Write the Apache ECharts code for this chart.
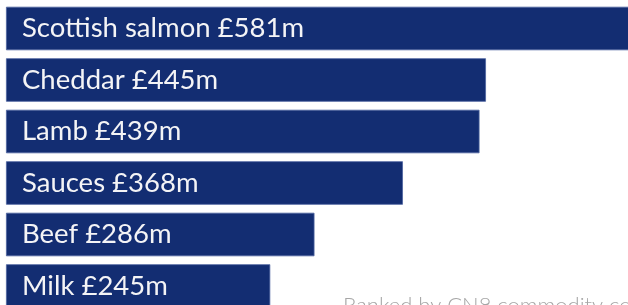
<!DOCTYPE html>
<html>
<head>
<meta charset="utf-8">
<script src="https://cdn.jsdelivr.net/npm/echarts@6/dist/echarts.min.js"></script>
<style>html,body{margin:0;padding:0;background:#fff}#c{width:628px;height:305px}</style>
</head>
<body>
<div id="c"></div>
<script>
const categories = ['Scottish salmon', 'Cheddar', 'Lamb', 'Sauces', 'Beef', 'Milk'];
const values = [581, 445, 439, 368, 286, 245];
const footnote = 'Ranked by CN8 commodity codes';

const chart = echarts.init(document.getElementById('c'));
chart.setOption({
  animation: false,
  grid: { left: 6, top: 2.75, width: 700, height: 309, containLabel: false, outerBoundsMode: 'none' },
  xAxis: { type: 'value', min: 0, max: 649, show: false },
  yAxis: { type: 'category', data: categories, inverse: true, show: false },
  series: [{
    type: 'bar',
    data: values,
    barWidth: 43.5,
    clip: false,
    itemStyle: { color: '#132d72', borderColor: '#4d63a0', borderWidth: 0.8 },
    label: {
      show: true,
      position: 'insideLeft',
      distance: 16,
      formatter: p => p.name + ' £' + p.value + 'm',
      color: '#f4f4f6',
      fontFamily: 'Lato',
      fontWeight: 400,
      fontSize: 27.5
    }
  }],
  graphic: [{
    type: 'text',
    left: 343,
    top: 294.5,
    style: { text: footnote, fill: '#a6a6a6', font: '300 22px Lato' }
  }]
});
</script>
</body>
</html>
